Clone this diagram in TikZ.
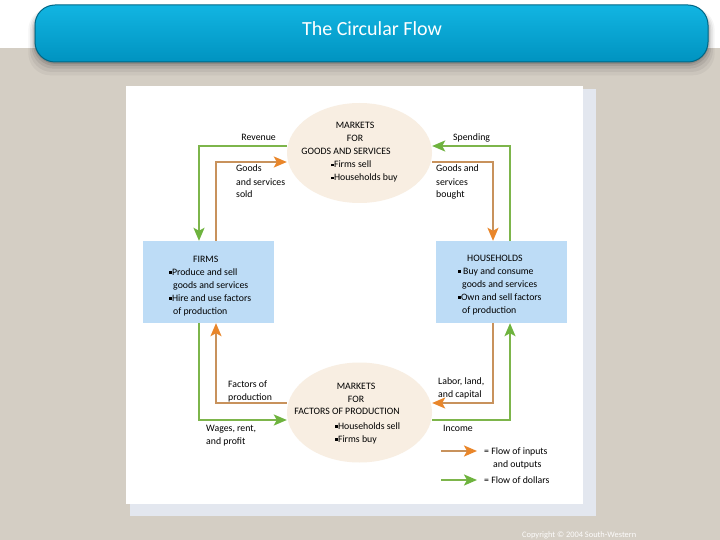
\documentclass[tikz,border=0pt]{standalone}
\usepackage{fontspec}
\setmainfont{Carlito}
\usetikzlibrary{arrows.meta,shapes.geometric}
\definecolor{beige}{HTML}{D4CEC4}
\definecolor{panelshade}{HTML}{E3E7EF}
\definecolor{mktfill}{HTML}{F8EEE2}
\definecolor{boxfill}{HTML}{BDDCF6}
\definecolor{goodsline}{HTML}{C8925C}
\definecolor{goodshead}{HTML}{E9862A}
\definecolor{cashline}{HTML}{7DB54B}
\definecolor{cashhead}{HTML}{6EB33E}
\definecolor{titletop}{HTML}{12B5E2}
\definecolor{titlebot}{HTML}{0093C0}
\newcommand{\sqb}{\raisebox{1.5pt}{\rule{2.8pt}{2.8pt}}}
\tikzset{
  lbl/.style={font=\fontsize{9.8}{13}\selectfont,align=left,inner sep=0pt,anchor=base west},
  lblc/.style={lbl,align=center,anchor=base},
  mkt/.style={ellipse,fill=mktfill,minimum width=145pt,minimum height=100pt,inner sep=0pt},
  sector/.style={rectangle,fill=boxfill,minimum width=131pt,minimum height=82pt,inner sep=0pt},
  goodsflow/.style={draw=goodsline,line width=2pt,-{Stealth[length=13pt,width=11pt,inset=3pt,color=goodshead]}},
  cashflow/.style={draw=cashline,line width=2pt,-{Stealth[length=13pt,width=11pt,inset=3pt,color=cashhead]}}
}
\begin{document}
\begin{tikzpicture}[x=1pt,y=-1pt]
  \useasboundingbox (0,0) rectangle (720,540);
  % background
  \fill[white] (0,0) rectangle (720,48);
  \fill[beige] (0,48) rectangle (720,540);
  % title bar with shadow
  \foreach \s/\o in {20/0.04,15/0.05,10/0.07,6/0.09,3/0.12}
    \fill[black,opacity=\o,rounded corners=22pt] (35-\s/3,8) rectangle (708+\s/3,62+\s/1.5);
  \shade[top color=titletop,bottom color=titlebot,rounded corners=20pt,draw=titlebot!70!black,line width=1pt]
    (35,5) rectangle (708,62);
  \node[font=\fontsize{20}{24}\selectfont,text=white,anchor=base] (title) at (372,36) {The Circular Flow};
  % panel
  \fill[panelshade] (130,89) rectangle (596,516);
  \fill[white] (126,86) rectangle (583,504);

  % markets and sectors
  \node[mkt] (goodsmkt) at (359.5,153) {};
  \node[mkt] (factormkt) at (359.5,412.5) {};
  \node[sector] (firms) at (208.5,282) {};
  \node[sector] (hholds) at (501,282) {};

  % flows of goods and services
  \draw[goodsflow] ([xshift=7.5pt]firms.north) |- ([yshift=-9pt]goodsmkt.west);
  \draw[goodsflow] ([yshift=-9pt]goodsmkt.east) -| ([xshift=-8pt]hholds.north);
  \draw[cashflow] ([xshift=9pt]hholds.north) |- ([yshift=7pt]goodsmkt.east);
  \draw[cashflow] ([yshift=7pt]goodsmkt.west) -| ([xshift=-9.5pt]firms.north);
  % flows of factors
  \draw[goodsflow] ([xshift=-8pt]hholds.south) |- ([yshift=9.5pt]factormkt.east);
  \draw[goodsflow] ([yshift=9.5pt]factormkt.west) -| ([xshift=7.5pt]firms.south);
  \draw[cashflow] ([xshift=-9.5pt]firms.south) |- ([yshift=-7.5pt]factormkt.west);
  \draw[cashflow] ([yshift=-7.5pt]factormkt.east) -| ([xshift=9pt]hholds.south);

  % texts of the goods market (base = last line)
  \node[lblc] (gm1) at (355,142) {MARKETS\\FOR};
  \node[lblc] (gm2) at (346,155) {GOODS AND SERVICES};
  \node[lbl] (gm3) at (331,181) {\sqb Firms sell\\\sqb Households buy};
  \node[lbl,anchor=base east] (revenue) at (276,141) {Revenue};
  \node[lbl] (sold) at (236,198) {Goods\\and services\\sold};
  \node[lbl] (spending) at (453,141) {Spending};
  \node[lbl] (bought) at (436,198) {Goods and\\services\\bought};

  % texts of the sectors
  \node[lbl] (firms1) at (193,262) {FIRMS};
  \node[lbl] (firms2) at (169,314) {\sqb Produce and sell\\\hspace{4pt}goods and services\\\sqb Hire and use factors\\\hspace{4pt}of production};
  \node[lbl] (hholds1) at (467,261) {HOUSEHOLDS};
  \node[lbl] (hholds2) at (458,313) {\sqb\ Buy and consume\\\hspace{4pt}goods and services\\\sqb Own and sell factors\\\hspace{4pt}of production};

  % texts of the factor market
  \node[lblc] (fm1) at (356,402) {MARKETS\\FOR};
  \node[lblc] (fm2) at (347,414) {FACTORS OF PRODUCTION};
  \node[lbl] (fm3) at (335,442) {\sqb Households sell\\\sqb Firms buy};
  \node[lbl] (factors) at (228,400) {Factors of\\production};
  \node[lbl] (wages) at (206,444) {Wages, rent,\\and profit};
  \node[lbl] (labor) at (438,397) {Labor, land,\\and capital};
  \node[lbl] (income) at (443,431) {Income};

  % legend
  \coordinate (lgoods1) at (441,451);
  \coordinate (lgoods2) at (477,451);
  \coordinate (lcash1) at (441,480);
  \coordinate (lcash2) at (477,480);
  \draw[goodsflow] (lgoods1) -- (lgoods2);
  \draw[cashflow] (lcash1) -- (lcash2);
  \node[lbl] (lgoodstxt) at (484,467) {= Flow of inputs\\\hspace{9pt}and outputs};
  \node[lbl] (lcashtxt) at (484,483) {= Flow of dollars};

  \node[font=\fontsize{8.4}{10}\selectfont,text=white!95!beige,anchor=base west,inner sep=0pt] (copyright) at (522,537) {Copyright © 2004 South-Western};
\end{tikzpicture}
\end{document}
